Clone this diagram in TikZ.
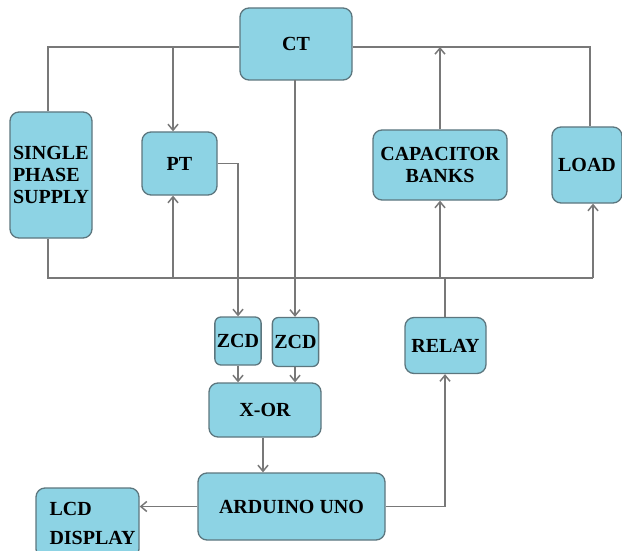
\documentclass[tikz,border=0pt]{standalone}
\usepackage{fontspec}
\setmainfont{Liberation Serif}
\usetikzlibrary{arrows.meta, positioning}

\definecolor{boxfill}{RGB}{141,211,228}
\definecolor{boxline}{RGB}{92,118,126}
\definecolor{wire}{RGB}{120,120,120}

\tikzset{
  block/.style={draw=boxline, fill=boxfill, line width=1.3pt, rounded corners=9pt,
    align=center, inner sep=2pt, font=\fontsize{20}{22}\selectfont\bfseries},
  wireline/.style={draw=wire, line width=1.5pt},
  arrowline/.style={wireline, -{Straight Barb[length=6pt, width=10pt]}}
}

\begin{document}
\begin{tikzpicture}[x=1pt, y=-1pt]
        \useasboundingbox (0,0) rectangle (622,551);
        \clip (0,0) rectangle (622,551);

        % Blocks
        \node[block, minimum width=112pt, minimum height=72pt] (ct) at (296,44) {CT};
        \node[block, minimum width=82pt, minimum height=126pt, align=left] (supply) at (51,175) {SINGLE\\PHASE\\SUPPLY};
        \node[block, minimum width=75pt, minimum height=63pt] (pt) at (179.5,163.5) {PT};
        \node[block, minimum width=134pt, minimum height=70pt] (cap) at (440,165) {CAPACITOR\\BANKS};
        \node[block, minimum width=70pt, minimum height=76pt] (load) at (587,165) {LOAD};
        \node[block, minimum width=46pt, minimum height=48pt, rounded corners=6pt] (zcdpt) at (238,341) {ZCD};
        \node[block, minimum width=45pt, minimum height=49pt, rounded corners=6pt] (zcdct) at (295.5,342) {ZCD};
        \node[block, minimum width=81pt, minimum height=56pt] (relay) at (445.5,345.5) {RELAY};
        \node[block, minimum width=112pt, minimum height=54pt] (xor) at (265,410) {X-OR};
        \node[block, minimum width=187pt, minimum height=67pt] (uno) at (291.5,506.5) {ARDUINO UNO};
        \node[block, minimum width=103pt, minimum height=70pt, text width=96pt, align=left] (lcd) at (87.5,523)
          {\hspace*{10pt}LCD\\[7pt]\hspace*{10pt}DISPLAY};

        % Supply rails
        \coordinate (topL) at (48,47);
        \coordinate (topR) at (590,47);
        \coordinate (botL) at (48,278);
        \coordinate (botR) at (593,278);
        \coordinate (ptTap) at (173,47);
        \coordinate (ctTap) at (295,80);
        \coordinate (relayTap) at (445,278);
        \draw[wireline] (supply.north -| topL) -- (topL) -- (ct.west |- topL);
        \draw[wireline] (ct.east |- topR) -- (topR) -- (load.north -| topR);
        \draw[wireline] (supply.south -| botL) -- (botL) -- (botR);

        % PT connections
        \draw[arrowline] (ptTap) -- (pt.north -| ptTap);
        \draw[arrowline] (ptTap |- botL) -- (pt.south -| ptTap);

        % Capacitor banks and load
        \draw[arrowline] (cap.north) -- (cap.north |- topR);
        \draw[arrowline] (cap.south |- botL) -- (cap.south);
        \draw[arrowline] (botR) -- (load.south -| botR);

        % Sensing path
        \draw[arrowline] (pt.east) -| (zcdpt.north);
        \draw[arrowline] (ctTap) -- (zcdct.north -| ctTap);
        \draw[arrowline] (zcdpt.south) -- (zcdpt.south |- xor.north);
        \draw[arrowline] (zcdct.south -| ctTap) -- (xor.north -| ctTap);
        \draw[arrowline] (xor.south -| 263,0) -- (uno.north -| 263,0);

        % Outputs
        \draw[arrowline] (uno.west) -- (lcd.east |- uno.west);
        \draw[arrowline] (uno.east) -| (relay.south -| relayTap);
        \draw[wireline] (relay.north -| relayTap) -- (relayTap);

    \end{tikzpicture}
\end{document}
